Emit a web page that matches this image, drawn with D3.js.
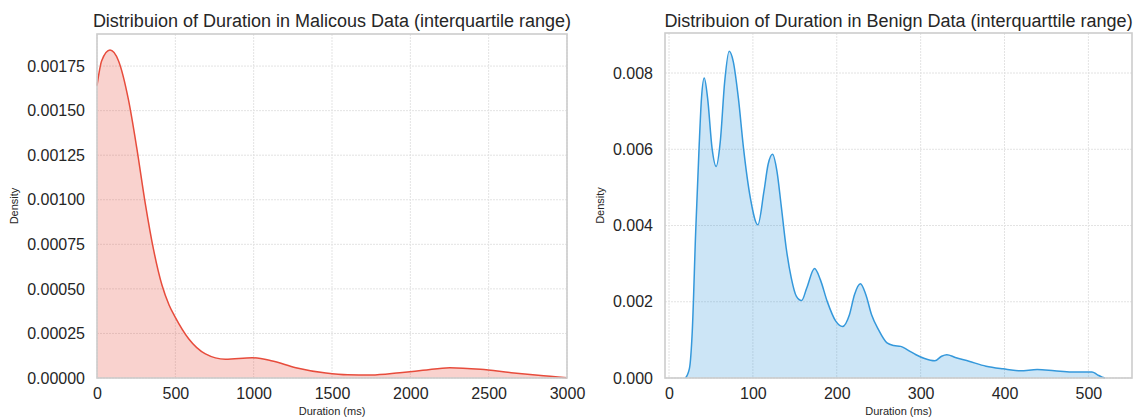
<!DOCTYPE html>
<html>
<head>
<meta charset="utf-8">
<script src="https://cdn.jsdelivr.net/npm/d3@7"></script>
<style>
  html, body { margin: 0; padding: 0; background: #fff; }
  svg { display: block; font-family: "Liberation Sans", Arial, sans-serif; }
</style>
</head>
<body>
<svg id="chart" width="1135" height="419"></svg>
<script>
// Kernel density estimate of duration, malicious traffic (ms, density)
const malDuration = [0, 30, 83, 137, 201, 254, 308, 361, 415, 460, 500, 585, 692, 820, 991, 1120, 1269, 1461, 1600, 1750, 1933, 2080, 2252, 2448, 2644, 2816, 3000];
const malDensity  = [0.00164, 0.00178, 0.00184, 0.00178, 0.00156, 0.00129, 0.00098, 0.00072, 0.00052, 0.00041, 0.00034, 0.00022, 0.000135, 0.000105, 0.000114, 0.0000955, 0.000058, 0.000028, 0.000018, 0.000017, 0.00003, 0.000043, 0.000058, 0.000049, 0.00003, 0.000015, 0.000002];

// Kernel density estimate of duration, benign traffic (ms, density)
const benDuration = [19.6, 24.4, 27.7, 31.8, 35.8, 38.7, 42, 46, 51.3, 56.2, 61.1, 66.4, 71.7, 76.6, 82.7, 88.8, 97, 105.9, 113.2, 118.1, 123.4, 128.7, 133.6, 139.7, 145.8, 151.9, 158, 164.2, 173.5, 180.4, 188.6, 198.8, 206.9, 215.1, 221.2, 228.1, 234.6, 241.5, 249.7, 259.9, 268, 276.2, 284.3, 294.5, 304.7, 316.9, 325, 331.2, 341.3, 357.6, 378, 398.4, 418.7, 439, 459.5, 479.8, 504.3, 510.4, 516.5, 519.8];
const benDensity  = [0, 0.00026, 0.00122, 0.00385, 0.00603, 0.00734, 0.00787, 0.00734, 0.00603, 0.00555, 0.0062, 0.00778, 0.00857, 0.0083, 0.00734, 0.00603, 0.00472, 0.00402, 0.0049, 0.0056, 0.00587, 0.00542, 0.00455, 0.00341, 0.00262, 0.00214, 0.00203, 0.00236, 0.00287, 0.00258, 0.00201, 0.00149, 0.00135, 0.00166, 0.00219, 0.00247, 0.00219, 0.00166, 0.00127, 0.00092, 0.00085, 0.00083, 0.00074, 0.00061, 0.00051, 0.00045, 0.00057, 0.00061, 0.00054, 0.00044, 0.00031, 0.00024, 0.00019, 0.00022, 0.00019, 0.00016, 0.00016, 0.00009, 0.00002, 0];

// Axis ticks
const malXTicks = [0, 500, 1000, 1500, 2000, 2500, 3000];
const malYTicks = [0, 0.00025, 0.0005, 0.00075, 0.001, 0.00125, 0.0015, 0.00175];
const benXTicks = [0, 100, 200, 300, 400, 500];
const benYTicks = [0, 0.002, 0.004, 0.006, 0.008];

const titles = [
  "Distribuion of Duration in Malicous Data (interquartile range)",
  "Distribuion of Duration in Benign Data (interquarttile range)"
];

const svg = d3.select("#chart");

function panel(cfg) {
  const { left, right, top, bottom, xDomain, yDomain, xs, ys, xTicks, yTicks, yFmt, color, title, yLabelX } = cfg;
  const x = d3.scaleLinear().domain(xDomain).range([left, right]);
  const y = d3.scaleLinear().domain(yDomain).range([bottom, top]);
  const g = svg.append("g");

  // grid
  g.append("g").selectAll("line").data(xTicks).join("line")
    .attr("x1", d => x(d)).attr("x2", d => x(d))
    .attr("y1", top).attr("y2", bottom)
    .attr("stroke", "#e3e3e3").attr("stroke-width", 1).attr("stroke-dasharray", "2,1");
  g.append("g").selectAll("line").data(yTicks).join("line")
    .attr("x1", left).attr("x2", right)
    .attr("y1", d => y(d)).attr("y2", d => y(d))
    .attr("stroke", "#e3e3e3").attr("stroke-width", 1).attr("stroke-dasharray", "2,1");

  const pts = xs.map((v, i) => [v, ys[i]]);
  const area = d3.area().x(d => x(d[0])).y0(y(0)).y1(d => y(d[1])).curve(d3.curveMonotoneX);
  const line = d3.line().x(d => x(d[0])).y(d => y(d[1])).curve(d3.curveMonotoneX);

  g.append("path").datum(pts).attr("d", area).attr("fill", color).attr("fill-opacity", 0.25);
  g.append("path").datum(pts).attr("d", line).attr("fill", "none").attr("stroke", color).attr("stroke-width", 1.5);

  // frame
  g.append("rect").attr("x", left).attr("y", top).attr("width", right - left).attr("height", bottom - top)
    .attr("fill", "none").attr("stroke", "#cccccc").attr("stroke-width", 1.6);

  // axes (tick labels only)
  const xAxis = d3.axisBottom(x).tickValues(xTicks).tickSize(0).tickPadding(10).tickFormat(d3.format("d"));
  const xg = g.append("g").attr("transform", `translate(0,${bottom})`).call(xAxis);
  const yAxis = d3.axisLeft(y).tickValues(yTicks).tickSize(0).tickPadding(12).tickFormat(yFmt);
  const yg = g.append("g").attr("transform", `translate(${left},0)`).call(yAxis);
  [xg, yg].forEach(a => {
    a.select(".domain").remove();
    a.selectAll("text").attr("font-size", 16).attr("fill", "#262626")
      .attr("font-family", "'Liberation Sans', Arial, sans-serif");
  });

  g.append("text").attr("x", (left + right) / 2).attr("y", 27)
    .attr("text-anchor", "middle").attr("font-size", 18).attr("fill", "#262626").text(title);
  g.append("text").attr("x", (left + right) / 2).attr("y", 415)
    .attr("text-anchor", "middle").attr("font-size", 11).attr("fill", "#262626").text("Duration (ms)");
  g.append("text").attr("transform", `translate(${yLabelX},${(top + bottom) / 2}) rotate(-90)`)
    .attr("text-anchor", "middle").attr("font-size", 11).attr("fill", "#262626").text("Density");
}

panel({
  left: 97, right: 567, top: 34, bottom: 378,
  xDomain: [0, 3000], yDomain: [0, 0.00193],
  xs: malDuration, ys: malDensity,
  xTicks: malXTicks, yTicks: malYTicks, yFmt: d3.format(".5f"),
  color: "#e74c3c", title: titles[0], yLabelX: 18
});

panel({
  left: 665, right: 1132, top: 33, bottom: 378,
  xDomain: [-4.8, 552], yDomain: [0, 0.00905],
  xs: benDuration, ys: benDensity,
  xTicks: benXTicks, yTicks: benYTicks, yFmt: d3.format(".3f"),
  color: "#3498db", title: titles[1], yLabelX: 604
});
</script>
</body>
</html>
